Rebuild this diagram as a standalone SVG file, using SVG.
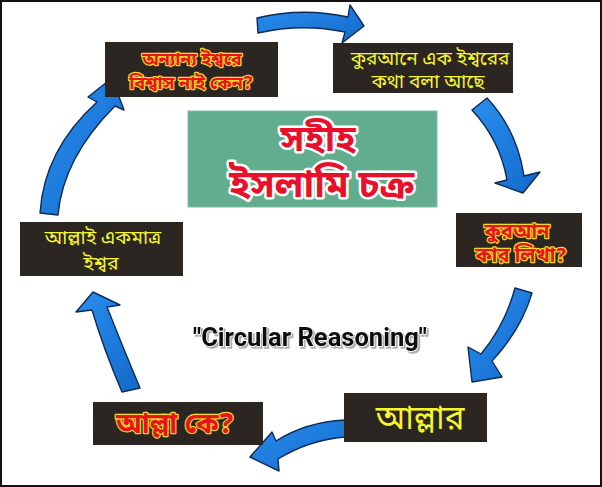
<svg xmlns="http://www.w3.org/2000/svg" width="602" height="487" viewBox="0 0 602 487">
<defs>
<style>
.box{fill:#2b2622;}
.bn{font-family:"Noto Sans Bengali","Lohit Bengali","Noto Sans",sans-serif;text-anchor:middle;}
.red{fill:#e8141c;stroke:#f5d82a;stroke-width:2.4;paint-order:stroke;stroke-linejoin:round;font-weight:bold;}
.yel{fill:#f7f52e;}
.arrow{fill:url(#ag);stroke:#0b2b55;stroke-width:1.4;stroke-linejoin:round;}
.title{fill:#e8102a;stroke:#ffffff;stroke-width:5;paint-order:stroke;stroke-linejoin:round;font-weight:bold;}
</style>
<linearGradient id="ag" x1="0" y1="0" x2="1" y2="1">
<stop offset="0" stop-color="#2a8ff0"/>
<stop offset="1" stop-color="#1269c9"/>
</linearGradient>
<radialGradient id="bg" cx="0.5" cy="0.5" r="0.7">
<stop offset="0" stop-color="#2e2824"/>
<stop offset="1" stop-color="#231f1c"/>
</radialGradient>
<filter id="sh" x="-10%" y="-30%" width="120%" height="160%">
<feDropShadow dx="2" dy="2" stdDeviation="0.6" flood-color="#b0b0b0" flood-opacity="1"/>
</filter>
</defs>
<rect x="0" y="0" width="602" height="487" fill="#ffffff"/>
<g id="connectors">
<path class="arrow" d="M257,18 Q302,7 348,17 L350,5 L364,26 L342,43 L345,32 Q302,23 258,33 Z"/>
<path class="arrow" d="M487,98 Q517,130 524,176 L540,172 L523,193 L495,183 L507,180 Q500,140 472,110 Z"/>
<path class="arrow" d="M532,293 Q521,330 492,361 L502,377 L472,382 L468,347 L481,354 Q505,325 515,288 Z"/>
<path class="arrow" d="M345,420 Q306,422 276,441 L272,432 L250,457 L279,471 L278,459 Q309,440 345,437 Z"/>
<path class="arrow" d="M122,392 Q104,350 92,310 L76,312 L93,292 L120,305 L107,307 Q124,350 140,388 Z"/>
<path class="arrow" d="M40,213 Q44,150 97,102 L88,97 L112,78 L124,110 L115,106 Q63,158 58,215 Z"/>
</g>
<g id="node-other-gods">
<rect class="box" x="105" y="42" width="173" height="55" fill="url(#bg)"/>
<text class="bn red" x="192" y="65" font-size="18">অন্যান্য ইশ্বরে</text>
<text class="bn red" x="191" y="89" font-size="18">বিশ্বাস নাই কেন?</text>
</g>
<g id="node-quran-one-god">
<rect class="box" x="333" y="43" width="180" height="50" fill="url(#bg)"/>
<text class="bn yel" x="430" y="65" font-size="19">কুরআনে এক ইশ্বরের</text>
<text class="bn yel" x="428" y="88" font-size="19">কথা বলা আছে</text>
</g>
<g id="node-title">
<rect x="188" y="111" width="249" height="96" fill="#62ad8e"/>
<rect x="188" y="111" width="249" height="96" fill="none" stroke="#7cbfa2" stroke-width="1"/>
<text class="bn title" x="318" y="151" font-size="37">সহীহ</text>
<text class="bn title" x="322" y="197" font-size="38">ইসলামি চক্র</text>
</g>
<g id="node-who-wrote">
<rect class="box" x="456" y="213" width="126" height="54" fill="url(#bg)"/>
<text class="bn red" x="517" y="238" font-size="20">কুরআন</text>
<text class="bn red" x="521" y="262" font-size="20">কার লিখা?</text>
</g>
<g id="node-allah-only">
<rect class="box" x="20" y="222" width="163" height="54" fill="url(#bg)"/>
<text class="bn yel" x="103" y="244" font-size="19.5">আল্লাই একমাত্র</text>
<text class="bn yel" x="101" y="270" font-size="19.5">ইশ্বর</text>
</g>
<g id="label-circular">
<text x="310" y="346" font-family="Roboto,'Liberation Sans',sans-serif" font-weight="bold" font-size="26" text-anchor="middle" textLength="234" lengthAdjust="spacingAndGlyphs" fill="#111111" stroke="#ffffff" stroke-width="1.5" paint-order="stroke" filter="url(#sh)">"Circular Reasoning"</text>
</g>
<g id="node-who-is-allah">
<rect class="box" x="93" y="402" width="170" height="43" fill="url(#bg)"/>
<text class="bn red" x="175" y="433" font-size="28">আল্লা কে?</text>
</g>
<g id="node-allahs">
<rect class="box" x="344" y="393" width="143" height="49" fill="url(#bg)"/>
<text class="bn yel" x="420" y="429" font-size="33">আল্লার</text>
</g>
<rect x="1" y="1" width="600" height="485" fill="none" stroke="#111111" stroke-width="2"/>
</svg>
